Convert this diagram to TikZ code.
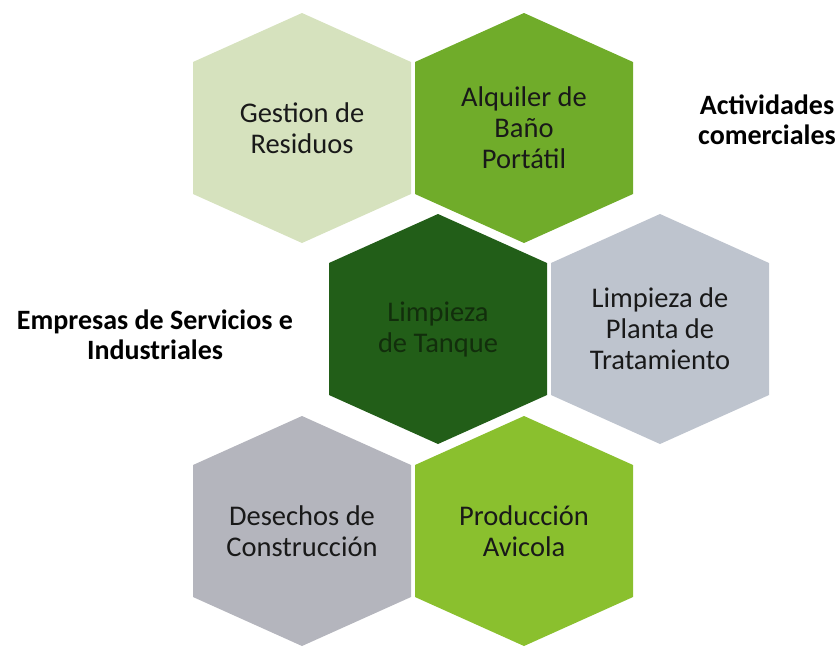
\documentclass[tikz,border=0pt]{standalone}
\usepackage{fontspec}
\setmainfont{Carlito}
\usetikzlibrary{positioning,calc,backgrounds}

\definecolor{paleGreen}{RGB}{214,226,190}
\definecolor{grassGreen}{RGB}{112,172,42}
\definecolor{deepGreen}{RGB}{34,94,24}
\definecolor{blueGrey}{RGB}{190,196,206}
\definecolor{stoneGrey}{RGB}{180,181,189}
\definecolor{limeGreen}{RGB}{138,192,46}
\definecolor{darkText}{RGB}{18,46,12}

% hexagon cell around a named node
\newcommand{\hexcell}[2]{%
  \fill[#2] ($(#1)+(0,-115)$) -- ($(#1)+(109,-66)$) -- ($(#1)+(109,66)$)
    -- ($(#1)+(0,115)$) -- ($(#1)+(-109,66)$) -- ($(#1)+(-109,-66)$) -- cycle;}

\begin{document}
\begin{tikzpicture}[x=1pt, y=-1pt, node distance=222pt]
\tikzstyle{cell}=[align=center, text=black!90, font=\fontsize{28.5}{31}\selectfont]
\tikzstyle{side}=[align=center, text=black, font=\bfseries\fontsize{28}{30}\selectfont]
\useasboundingbox (0,0) rectangle (840,649);
% top row
\node[cell]   (gestion)               at (302,128) {Gestion de\\Residuos};
\node[cell]   (alquiler)[right of=gestion]         {Alquiler de\\Baño\\Portátil};
% middle row
\node[cell, text=darkText] (tanque)   at (438,329) {Limpieza\\de Tanque};
\node[cell]   (planta)[right of=tanque]            {Limpieza de\\Planta de\\Tratamiento};
% bottom row
\node[cell]   (desechos)              at (302,531) {Desechos de\\Construcción};
\node[cell]   (avicola)[right of=desechos]         {Producción\\Avicola};
% side labels
\node[side]   (comercial)             at (767,120) {Actividades\\comerciales};
\node[side]   (empresas)              at (155,335) {Empresas de Servicios e\\Industriales};
\begin{scope}[on background layer]
\hexcell{gestion}{paleGreen}
\hexcell{alquiler}{grassGreen}
\hexcell{tanque}{deepGreen}
\hexcell{planta}{blueGrey}
\hexcell{desechos}{stoneGrey}
\hexcell{avicola}{limeGreen}
\end{scope}
\end{tikzpicture}
\end{document}
